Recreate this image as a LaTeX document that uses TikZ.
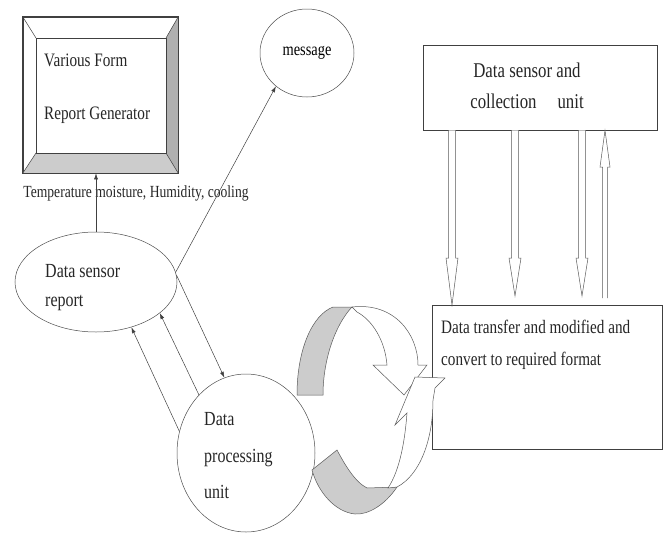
\documentclass[tikz,border=0pt]{standalone}
\usepackage{fontspec}
\setmainfont[FakeStretch=0.8]{Liberation Serif}
\usetikzlibrary{arrows.meta,shapes.geometric}
\tikzset{
	blk/.style = {
		shape=rectangle,
		draw=black!75,
		line width=0.7pt,
		fill=white
	},
	oval/.style = {
		shape=ellipse,
		draw=black!70,
		line width=0.5pt,
		inner sep=0pt
	},
	txt/.style = {
		inner sep=0pt,
		align=left,
		text=black!85
	},
	arr/.style = {
		draw=black!75,
		line width=0.5pt,
		-{Latex[length=6pt,width=4pt]}
	},
	hollow/.style = {
		draw=black!65,
		line width=0.5pt,
		fill=white
	},
	bandgray/.style = {
		draw=black!65,
		line width=0.5pt,
		fill=gray!40
	}
}

\begin{document}
\begin{tikzpicture}[x=1pt, y=-1pt]
		\useasboundingbox (0,0) rectangle (664,533);
		\node[blk, minimum width=155pt, minimum height=156pt] (gen) at (100.5,95) {};
		\coordinate (gin) at (36,38);
		\coordinate (gis) at (166,153);
		\fill[gray!40] (gen.south west) -- (gin |- gis) -- (gis) -- (gen.south east) -- cycle;
		\fill[gray!62] (gen.south east) -- (gis) -- (gis |- gin) -- (gen.north east) -- cycle;
		\draw[black!75, line width=0.6pt] (gin) rectangle (gis);
		\draw[black!75, line width=0.5pt] (gen.north west) -- (gin)
			(gen.north east) -- (gis |- gin)
			(gen.south west) -- (gin |- gis)
			(gen.south east) -- (gis);
		\draw[black!75, line width=0.8pt] (gen.north west) rectangle (gen.south east);
		\node[txt, anchor=west, font=\fontsize{19}{53}\selectfont] (gentext) at (44,88.5) {
			Various Form\\
			Report Generator
		};
		\node[txt, font=\fontsize{17}{18}\selectfont] (temp) at (136,193) {Temperature moisture, Humidity, cooling};

		\node[oval, minimum width=162pt, minimum height=100pt] (dsr) at (96,282) {};
		\node[txt, anchor=west, font=\fontsize{20}{29}\selectfont] (dsrtext) at (45,287.5) {
			Data sensor\\
			report
		};
		\node[oval, minimum width=94pt, minimum height=88pt, font=\fontsize{18}{18}\selectfont] (msg) at (307,53) {message};
		\node[oval, minimum width=138pt, minimum height=158pt] (dpu) at (246,453) {};
		\node[txt, anchor=west, font=\fontsize{20}{36.5}\selectfont] (dputext) at (204,456) {
			Data\\
			processing\\
			unit
		};

		\node[blk, minimum width=234pt, minimum height=85pt] (dcu) at (540,87.5) {};
		\node[txt, align=center, font=\fontsize{21}{31}\selectfont] (dcutext) at (527,86) {
			Data sensor and\\
			collection\quad unit
		};
		\node[blk, minimum width=230pt, minimum height=144pt] (dtc) at (547,377) {};
		\node[txt, anchor=west, font=\fontsize{19}{32}\selectfont] (dtctext) at (441,345) {
			Data transfer and modified and\\
			convert to required format
		};

		\draw[arr] (dsr.north) -- (dsr.north |- gen.south);
		\draw[arr] (dsr.7) -- (msg.227);
		\draw[arr] (dsr.5) -- (dpu.106);
		\draw[arr] (dpu.129) -- (dsr.334);
		\draw[arr] (dpu.162) -- (dsr.308);

		\foreach \x/\tip in {452/305, 515/296, 582/296}
			\draw[hollow] ({\x-3.5},0 |- dcu.south) -- ({\x-3.5},258) -- ({\x-6},258) -- (\x,\tip)
				-- ({\x+6},258) -- ({\x+3.5},258) -- ({\x+3.5},0 |- dcu.south);
		\draw[hollow] (602.5,298) -- (602.5,167) -- (600,167) -- (605,0 |- dcu.south)
			-- (610,167) -- (607.5,167) -- (607.5,298);

		\draw[bandgray] (297,395) .. controls (297,350) and (312,315) .. (333,307) -- (352,307)
			.. controls (335,325) and (323,360) .. (323,395) -- cycle;
		\draw[hollow] (352,307) .. controls (395,302) and (418,335) .. (418,365) -- (427,365) -- (404,395)
			-- (373,365) -- (387,365) .. controls (385,340) and (372,320) .. (357,312) -- cycle;
		\draw[bandgray] (312,470) -- (337,450) .. controls (345,465) and (355,482) .. (367,488) -- (397,487)
			.. controls (385,505) and (368,515) .. (355,514) .. controls (335,512) and (318,492) .. (312,470) -- cycle;
		\draw[hollow] (388,488) .. controls (400,470) and (405,440) .. (407,413) -- (395,425) -- (415,377)
			-- (445,378) -- (435,388) -- (433,400) .. controls (433,440) and (420,475) .. (397,487) -- cycle;
\end{tikzpicture}
\end{document}
